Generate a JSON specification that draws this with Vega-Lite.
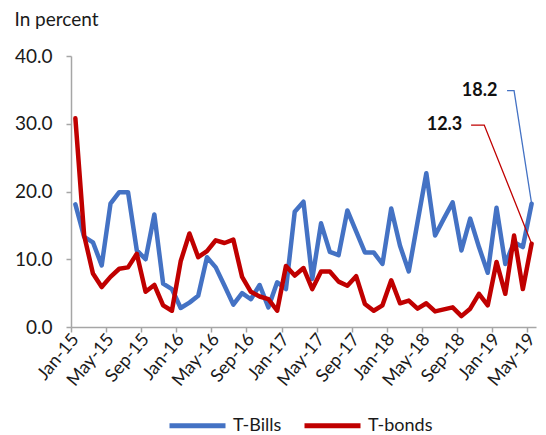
{
  "$schema": "https://vega.github.io/schema/vega-lite/v6.json",
  "width": 465,
  "height": 271,
  "padding": {"left": 14, "top": 11, "right": 5, "bottom": 5},
  "background": "white",
  "config": {"view": {"stroke": null}, "font": "Lato", "axis": {"labelOverlap": false, "labelFlush": false, "labelBound": false}},
  "title": {"text": "In percent", "anchor": "start", "frame": "bounds", "fontSize": 19, "fontWeight": "normal", "color": "#1a1a1a", "offset": 17},
  "datasets": {
    "rates": [
      {"i": 0, "T-Bills": 18.1, "T-bonds": 30.8},
      {"i": 1, "T-Bills": 13.3, "T-bonds": 13.5},
      {"i": 2, "T-Bills": 12.5, "T-bonds": 7.9},
      {"i": 3, "T-Bills": 9.1, "T-bonds": 5.9},
      {"i": 4, "T-Bills": 18.2, "T-bonds": 7.4},
      {"i": 5, "T-Bills": 19.9, "T-bonds": 8.6},
      {"i": 6, "T-Bills": 19.9, "T-bonds": 8.8},
      {"i": 7, "T-Bills": 11.3, "T-bonds": 10.8},
      {"i": 8, "T-Bills": 10.0, "T-bonds": 5.2},
      {"i": 9, "T-Bills": 16.6, "T-bonds": 6.2},
      {"i": 10, "T-Bills": 6.4, "T-bonds": 3.2},
      {"i": 11, "T-Bills": 5.6, "T-bonds": 2.4},
      {"i": 12, "T-Bills": 2.8, "T-bonds": 9.7},
      {"i": 13, "T-Bills": 3.6, "T-bonds": 13.8},
      {"i": 14, "T-Bills": 4.6, "T-bonds": 10.3},
      {"i": 15, "T-Bills": 10.3, "T-bonds": 11.2},
      {"i": 16, "T-Bills": 8.8, "T-bonds": 12.8},
      {"i": 17, "T-Bills": 6.1, "T-bonds": 12.4},
      {"i": 18, "T-Bills": 3.3, "T-bonds": 12.9},
      {"i": 19, "T-Bills": 5.0, "T-bonds": 7.4},
      {"i": 20, "T-Bills": 4.1, "T-bonds": 5.2},
      {"i": 21, "T-Bills": 6.2, "T-bonds": 4.5},
      {"i": 22, "T-Bills": 2.9, "T-bonds": 4.1},
      {"i": 23, "T-Bills": 6.6, "T-bonds": 2.4},
      {"i": 24, "T-Bills": 5.6, "T-bonds": 9.0},
      {"i": 25, "T-Bills": 17.0, "T-bonds": 7.6},
      {"i": 26, "T-Bills": 18.5, "T-bonds": 8.7},
      {"i": 27, "T-Bills": 7.1, "T-bonds": 5.6},
      {"i": 28, "T-Bills": 15.3, "T-bonds": 8.2},
      {"i": 29, "T-Bills": 11.1, "T-bonds": 8.2},
      {"i": 30, "T-Bills": 10.6, "T-bonds": 6.7},
      {"i": 31, "T-Bills": 17.2, "T-bonds": 6.1},
      {"i": 32, "T-Bills": 14.1, "T-bonds": 7.5},
      {"i": 33, "T-Bills": 11.0, "T-bonds": 3.4},
      {"i": 34, "T-Bills": 11.0, "T-bonds": 2.4},
      {"i": 35, "T-Bills": 9.3, "T-bonds": 3.2},
      {"i": 36, "T-Bills": 17.5, "T-bonds": 6.9},
      {"i": 37, "T-Bills": 12.0, "T-bonds": 3.5},
      {"i": 38, "T-Bills": 8.2, "T-bonds": 3.9},
      {"i": 39, "T-Bills": 15.5, "T-bonds": 2.7},
      {"i": 40, "T-Bills": 22.7, "T-bonds": 3.5},
      {"i": 41, "T-Bills": 13.5, "T-bonds": 2.3},
      {"i": 42, "T-Bills": 16.0, "T-bonds": 2.6},
      {"i": 43, "T-Bills": 18.4, "T-bonds": 2.9},
      {"i": 44, "T-Bills": 11.3, "T-bonds": 1.6},
      {"i": 45, "T-Bills": 16.0, "T-bonds": 2.7},
      {"i": 46, "T-Bills": 11.8, "T-bonds": 4.9},
      {"i": 47, "T-Bills": 8.0, "T-bonds": 3.2},
      {"i": 48, "T-Bills": 17.6, "T-bonds": 9.6},
      {"i": 49, "T-Bills": 9.3, "T-bonds": 4.9},
      {"i": 50, "T-Bills": 12.5, "T-bonds": 13.5},
      {"i": 51, "T-Bills": 11.8, "T-bonds": 5.6},
      {"i": 52, "T-Bills": 18.2, "T-bonds": 12.3}
    ],
    "leaders": [
      {"series": "T-Bills", "i": 49.2, "value": 34.9},
      {"series": "T-Bills", "i": 50.0, "value": 34.9},
      {"series": "T-Bills", "i": 52.0, "value": 18.2},
      {"series": "T-bonds", "i": 45.1, "value": 29.8},
      {"series": "T-bonds", "i": 46.6, "value": 29.8},
      {"series": "T-bonds", "i": 52.0, "value": 12.3}
    ],
    "callouts": [
      {"label": "18.2", "i": 48.1, "value": 34.9},
      {"label": "12.3", "i": 44.1, "value": 29.8}
    ]
  },
  "encoding": {
    "x": {
      "field": "i", "type": "quantitative",
      "scale": {"domain": [-0.5, 52.5], "nice": false, "zero": false},
      "axis": {
        "values": [0, 4, 8, 12, 16, 20, 24, 28, 32, 36, 40, 44, 48, 52],
        "labelExpr": "['Jan-15','May-15','Sep-15','Jan-16','May-16','Sep-16','Jan-17','May-17','Sep-17','Jan-18','May-18','Sep-18','Jan-19','May-19'][round(datum.value/4)]",
        "labelAngle": -50, "labelAlign": "right", "labelBaseline": "middle",
        "labelFontSize": 18, "labelColor": "#1a1a1a", "labelPadding": 4,
        "tickOffset": -4.4, "labelOffset": 4.4, "tickSize": 5, "tickColor": "#a6a6a6", "tickWidth": 1.5,
        "domainColor": "#a6a6a6", "domainWidth": 1.5, "grid": false, "title": null,
        "labelOverlap": false, "labelFlush": false, "labelBound": false, "labelSeparation": 0
      }
    },
    "y": {
      "field": "value", "type": "quantitative",
      "scale": {"domain": [0, 40], "nice": false},
      "axis": {
        "values": [0, 10, 20, 30, 40], "format": ".1f",
        "labelFontSize": 19, "labelColor": "#1a1a1a", "labelPadding": 14,
        "tickSize": 5, "tickColor": "#a6a6a6", "tickWidth": 1.5,
        "domainColor": "#a6a6a6", "domainWidth": 1.5, "grid": false, "title": null
      }
    }
  },
  "layer": [
    {
      "data": {"name": "rates"},
      "transform": [{"fold": ["T-Bills", "T-bonds"], "as": ["series", "value"]}],
      "mark": {"type": "line", "strokeWidth": 4.5, "strokeJoin": "round", "strokeCap": "round"},
      "encoding": {
        "color": {
          "field": "series", "type": "nominal",
          "scale": {"domain": ["T-Bills", "T-bonds"], "range": ["#4472C4", "#C00000"]},
          "legend": {
            "orient": "none", "legendX": 96, "legendY": 339, "direction": "horizontal",
            "title": null, "symbolType": "stroke", "symbolSize": 3136, "symbolStrokeWidth": 5,
            "labelFontSize": 18, "labelColor": "#1a1a1a", "labelOffset": 5, "columnPadding": 12
          }
        }
      }
    },
    {
      "data": {"name": "leaders"},
      "mark": {"type": "line", "strokeWidth": 1.3},
      "encoding": {
        "color": {"field": "series", "type": "nominal", "legend": null}
      }
    },
    {
      "data": {"name": "callouts"},
      "mark": {"type": "text", "align": "right", "baseline": "middle", "fontSize": 18, "fontWeight": "bold", "color": "#111111"},
      "encoding": {
        "text": {"field": "label"}
      }
    }
  ]
}
